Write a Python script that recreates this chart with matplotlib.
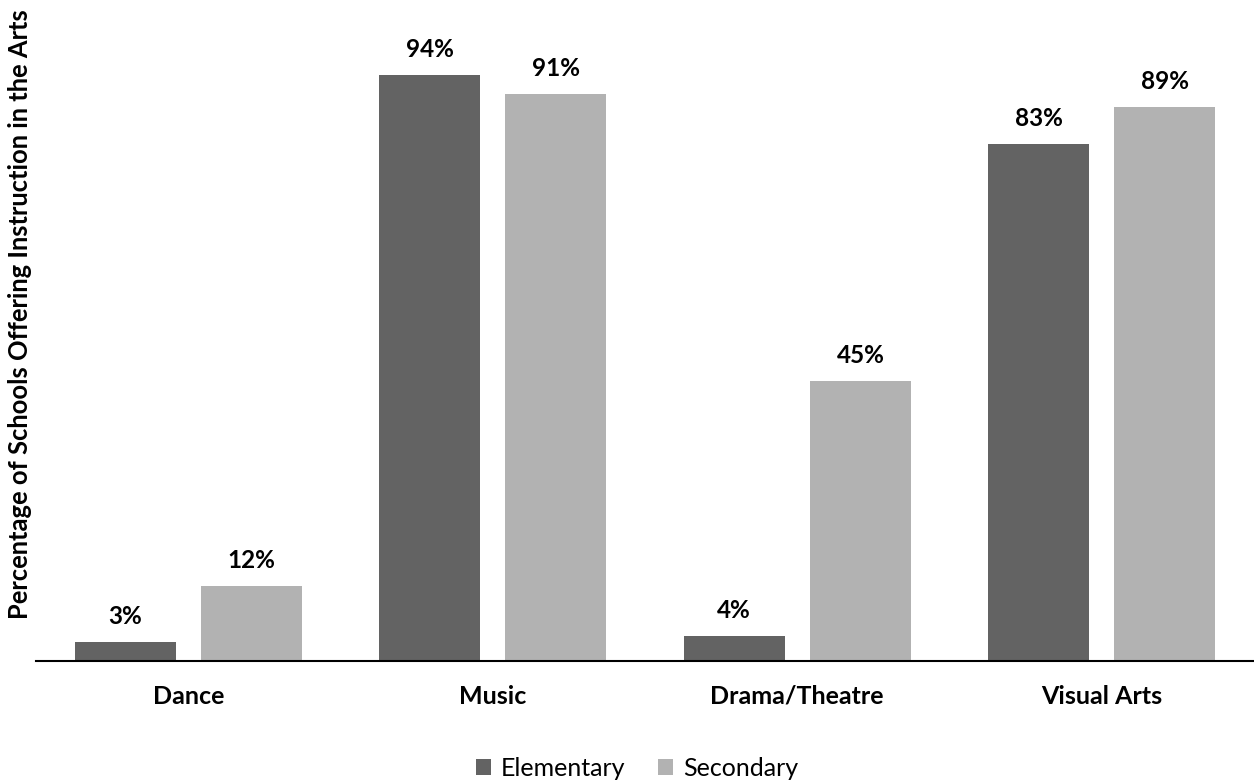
import matplotlib
matplotlib.use("Agg")
import matplotlib.pyplot as plt
import numpy as np

categories = ["Dance", "Music", "Drama/Theatre", "Visual Arts"]
elementary = [3, 94, 4, 83]
secondary = [12, 91, 45, 89]
series_names = ["Elementary", "Secondary"]
colors = ["#636363", "#b2b2b2"]

plt.rcParams['font.family'] = ['Lato', 'DejaVu Sans']

fig = plt.figure(figsize=(12.54, 7.82), dpi=100)
ax = fig.add_axes([36/1254, 121/782, 1 - 36/1254, 623/782])

x = np.arange(len(categories))
w = 0.332
off = 0.2075
b1 = ax.bar(x - off, elementary, w, color=colors[0], label=series_names[0])
b2 = ax.bar(x + off, secondary, w, color=colors[1], label=series_names[1])

for bars, vals in ((b1, elementary), (b2, secondary)):
    for b, v in zip(bars, vals):
        ax.annotate(f"{v}%", (b.get_x() + b.get_width()/2, v), xytext=(0, 10),
                    textcoords="offset points", ha="center", va="bottom",
                    fontsize=17.5, fontweight="bold", color="black")

ax.set_xlim(-0.5, 3.5)
ax.set_ylim(0, 100)
ax.set_xticks(x)
ax.set_xticklabels(categories, fontsize=18, fontweight="bold")
ax.tick_params(axis="x", length=0, pad=17)
ax.set_yticks([])
for s in ["top", "right", "left"]:
    ax.spines[s].set_visible(False)
ax.spines["bottom"].set_linewidth(1.5)

fig.text(20/1254, 1 - 314/782, "Percentage of Schools Offering Instruction in the Arts",
         rotation=90, ha="center", va="center", fontsize=18.4, fontweight="bold")

fig.legend(handles=[b1, b2], labels=series_names, loc="center",
           bbox_to_anchor=(637/1254, 1 - 768/782), ncol=2, frameon=False,
           fontsize=18, handlelength=0.6, handleheight=0.6, handletextpad=0.4,
           columnspacing=1.3)

fig.savefig("out.png", dpi=100)
